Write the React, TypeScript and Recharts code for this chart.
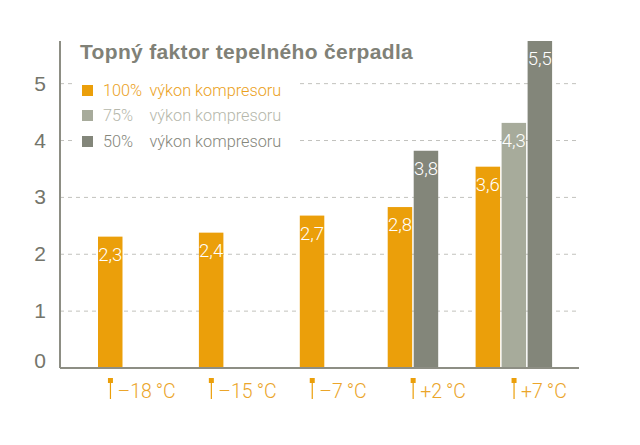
import { BarChart, Bar, XAxis, YAxis, CartesianGrid } from "recharts";

const categories = ["–18\u2009°C", "–15\u2009°C", "–7\u2009°C", "+2\u2009°C", "+7\u2009°C"];
// bar heights as drawn (the printed labels do not always agree with them)
const full = [2.31, 2.38, 2.68, 2.83, 3.54];
const threeQuarter = [null, null, null, null, 4.31];
const half = [null, null, null, 3.82, 5.75];
const fullLabels = ["2,3", "2,4", "2,7", "2,8", "3,6"];
const threeQuarterLabels = [null, null, null, null, "4,3"];
const halfLabels = [null, null, null, "3,8", "5,5"];
const yTicks = [0, 1, 2, 3, 4, 5];

const ORANGE = "#eb9f0a";
const LIGHT = "#a7ab9b";
const DARK = "#83867a";
const TEXT = "#74756b";
const LIGHT_FONT = "Roboto, 'Liberation Sans', sans-serif";

const data = categories.map((name, i) => ({
  name,
  full: full[i],
  threeQuarter: threeQuarter[i],
  half: half[i],
  fullLabel: fullLabels[i],
  threeQuarterLabel: threeQuarterLabels[i],
  halfLabel: halfLabels[i],
}));

const seriesKeys = ["full", "threeQuarter", "half"];
const BAR_W = 24.5;
const BAR_GAP = 1.5;

// recharts keeps a slot for empty series, so slide the bars to centre what is really there
function makeShape(key: string, fill: string) {
  return (props: any) => {
    const { x, y, width, height, payload } = props;
    if (payload[key] == null) return <g />;
    const present = seriesKeys.filter((k) => payload[k] != null);
    const slot = seriesKeys.indexOf(key);
    const step = BAR_W + BAR_GAP;
    const wanted = (present.indexOf(key) - (present.length - 1) / 2) * step;
    const shift = wanted - (slot - 1) * step;
    return (
      <g>
        <rect x={x + shift} y={y} width={width} height={height} fill={fill} />
        <text
          x={x + shift + width / 2}
          y={y + 24}
          textAnchor="middle"
          fontSize={18.5}
          fontWeight={300}
          fontFamily={LIGHT_FONT}
          fill="#fff"
        >
          {payload[key + "Label"]}
        </text>
      </g>
    );
  };
}

function TempTick({ x, y, payload }: any) {
  return (
    <g>
      <rect x={x - 2.5} y={y + 4} width={5} height={5} fill={ORANGE} />
      <line x1={x} x2={x} y1={y + 8} y2={y + 25} stroke={ORANGE} strokeWidth={1.2} />
      <text x={x + 7} y={y + 23.5} fontSize={19.5} fontWeight={300} fontFamily={LIGHT_FONT} fill="#eba52a">
        {payload.value}
      </text>
    </g>
  );
}

// the zero sits above the baseline in the original, the others are on their gridline
function ValueTick({ x, y, payload }: any) {
  return (
    <text
      x={x}
      y={payload.value === 0 ? y : y + 7}
      textAnchor="end"
      fontSize={21}
      fontFamily="'Liberation Sans', sans-serif"
      fill={TEXT}
    >
      {payload.value}
    </text>
  );
}

const legendRows = [
  { color: ORANGE, text: "#eba11c", pct: "100%", top: 90 },
  { color: LIGHT, text: "#b5b7ab", pct: "75%", top: 115 },
  { color: DARK, text: "#85867b", pct: "50%", top: 141 },
];

export default function App() {
  return (
    <div style={{ position: "fixed", left: 0, top: 0, width: 640, height: 445, background: "#fff", overflow: "hidden" }}>
      <BarChart
        width={640}
        height={445}
        data={data}
        margin={{ top: 41, right: 61, bottom: 0, left: 0 }}
        barSize={BAR_W}
        barGap={BAR_GAP}
      >
        <CartesianGrid vertical={false} stroke="#c2c2bd" strokeDasharray="4 4" horizontalValues={yTicks} />
        <XAxis
          dataKey="name"
          height={77}
          padding={{ left: 0, right: 14.5 }}
          axisLine={{ stroke: "#8d8e84", strokeWidth: 2 }}
          tickLine={false}
          tickMargin={0}
          tick={<TempTick />}
          interval={0}
        />
        <YAxis
          width={60}
          domain={[0, 5.75]}
          ticks={yTicks}
          interval={0}
          axisLine={{ stroke: "#8d8e84", strokeWidth: 2 }}
          tickLine={false}
          tickMargin={8}
          tick={<ValueTick />}
        />
        <Bar dataKey="full" isAnimationActive={false} shape={makeShape("full", ORANGE)} />
        <Bar dataKey="threeQuarter" isAnimationActive={false} shape={makeShape("threeQuarter", LIGHT)} />
        <Bar dataKey="half" isAnimationActive={false} shape={makeShape("half", DARK)} />
      </BarChart>

      <div style={{ position: "absolute", left: 76, top: 76, width: 220, height: 74, background: "#fff" }} />
      <div
        style={{
          position: "absolute",
          left: 80,
          top: 39,
          fontFamily: "'Liberation Sans', sans-serif",
          fontWeight: 700,
          fontSize: 21,
          letterSpacing: 0.33,
          lineHeight: "25px",
          color: "#808177",
          whiteSpace: "nowrap",
        }}
      >
        Topný faktor tepelného čerpadla
      </div>
      {legendRows.map((r) => (
        <div key={r.pct}>
          <div style={{ position: "absolute", left: 82, top: r.top - 5.5, width: 11, height: 11, background: r.color }} />
          <div
            style={{
              position: "absolute",
              left: 103,
              top: r.top - 10,
              lineHeight: "22px",
              fontSize: 16.3,
              fontWeight: 300,
              fontFamily: LIGHT_FONT,
              color: r.text,
              whiteSpace: "nowrap",
            }}
          >
            {r.pct}
          </div>
          <div
            style={{
              position: "absolute",
              left: 149.5,
              top: r.top - 10,
              lineHeight: "22px",
              fontSize: 16.3,
              fontWeight: 300,
              fontFamily: LIGHT_FONT,
              color: r.text,
              whiteSpace: "nowrap",
            }}
          >
            výkon kompresoru
          </div>
        </div>
      ))}
    </div>
  );
}
